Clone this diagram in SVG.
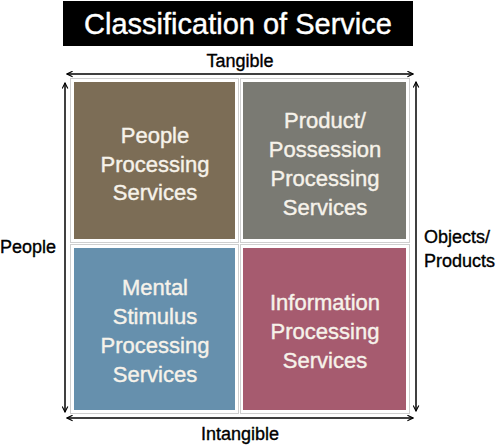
<svg xmlns="http://www.w3.org/2000/svg" width="500" height="446" viewBox="0 0 500 446">
<defs>
<marker id="ah" viewBox="0 0 10 10" refX="9" refY="5" markerWidth="7" markerHeight="7" orient="auto-start-reverse" markerUnits="userSpaceOnUse">
<path d="M1,1 L9,5 L1,9" fill="none" stroke="#000" stroke-width="1.6"/>
</marker>
</defs>
<style>
.lbl{font-family:"Liberation Sans",Arial,sans-serif;font-size:18px;fill:#000;stroke:#000;stroke-width:0.35}
.box{font-family:"Liberation Sans",Arial,sans-serif;font-size:22px;fill:#f6f2ea;stroke:#f6f2ea;stroke-width:0.4;text-anchor:middle}
.frame{fill:#fff;stroke:#cfcfcf;stroke-width:1}
.ax{stroke:#000;stroke-width:1.5;fill:none;marker-start:url(#ah);marker-end:url(#ah)}
</style>
<rect width="500" height="446" fill="#fff"/>
<g id="title">
<rect x="63" y="1" width="350" height="45" fill="#000"/>
<text x="238" y="34" font-family="'Liberation Sans',Arial,sans-serif" font-size="29" fill="#fff" stroke="#fff" stroke-width="0.4" text-anchor="middle">Classification of Service</text>
</g>
<g id="connectors">
<line class="ax" x1="67" y1="74" x2="413" y2="74"/>
<line class="ax" x1="67" y1="418" x2="413" y2="418"/>
<line class="ax" x1="65" y1="83" x2="65" y2="412"/>
<line class="ax" x1="416" y1="82" x2="416" y2="411"/>
</g>
<g id="labels">
<text class="lbl" x="240" y="67" text-anchor="middle">Tangible</text>
<text class="lbl" x="240" y="440" text-anchor="middle">Intangible</text>
<text class="lbl" x="0" y="253">People</text>
<text class="lbl" x="424" y="243">Objects/</text>
<text class="lbl" x="424" y="267">Products</text>
</g>
<g id="people-processing">
<rect class="frame" x="70.5" y="78.5" width="168" height="164"/>
<rect x="74" y="82" width="161" height="157" fill="#7c6d56"/>
<text class="box" x="155" y="143">People</text>
<text class="box" x="155" y="172">Processing</text>
<text class="box" x="155" y="200">Services</text>
</g>
<g id="possession-processing">
<rect class="frame" x="240.5" y="78.5" width="169" height="164"/>
<rect x="243" y="82" width="163" height="157" fill="#7a7a73"/>
<text class="box" x="325" y="128">Product/</text>
<text class="box" x="325" y="157">Possession</text>
<text class="box" x="325" y="186">Processing</text>
<text class="box" x="325" y="215">Services</text>
</g>
<g id="mental-stimulus-processing">
<rect class="frame" x="70.5" y="244.5" width="168" height="169"/>
<rect x="74" y="248" width="161" height="162" fill="#6690ad"/>
<text class="box" x="155" y="295">Mental</text>
<text class="box" x="155" y="324">Stimulus</text>
<text class="box" x="155" y="353">Processing</text>
<text class="box" x="155" y="382">Services</text>
</g>
<g id="information-processing">
<rect class="frame" x="240.5" y="244.5" width="169" height="169"/>
<rect x="243" y="248" width="163" height="162" fill="#a65b6f"/>
<text class="box" x="325" y="310">Information</text>
<text class="box" x="325" y="339">Processing</text>
<text class="box" x="325" y="368">Services</text>
</g>
</svg>
